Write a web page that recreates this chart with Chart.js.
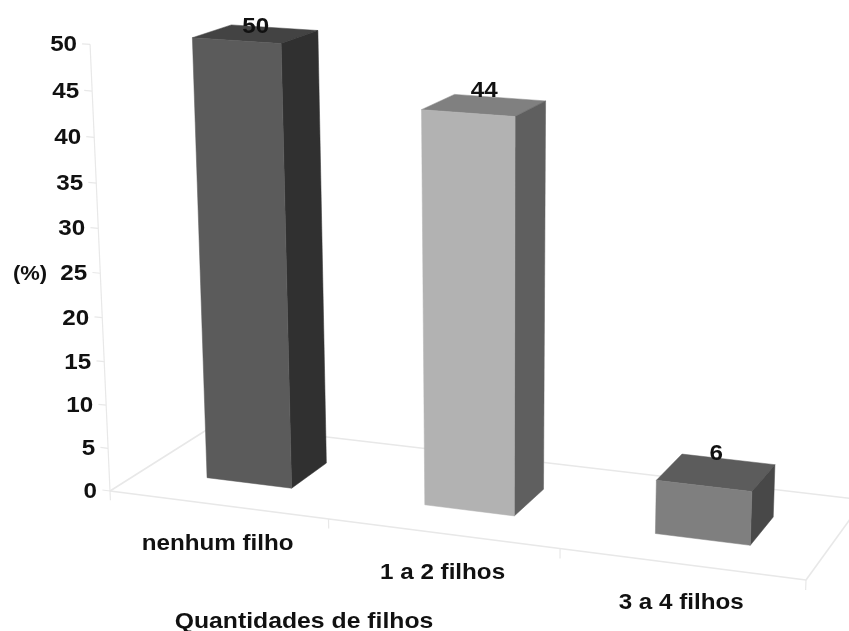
<!DOCTYPE html>
<html lang="pt">
<head>
<meta charset="utf-8">
<title>Quantidades de filhos</title>
<script src="https://cdn.jsdelivr.net/npm/chart.js@4"></script>
<style>
    html, body { margin: 0; background: #fff; }
    canvas { display: block; }
</style>
</head>
<body>
<canvas id="filhos-chart" width="849" height="631"></canvas>
<script>
const categories = ['nenhum filho', '1 a 2 filhos', '3 a 4 filhos'];
const percentages = [50, 44, 6];

const frontColors = ['#5b5b5b', '#b2b2b2', '#7f7f7f'];
const topColors = ['#434343', '#808080', '#5c5c5c'];
const sideColors = ['#303030', '#5f5f5f', '#484848'];

const font = '"Liberation Sans", Arial, sans-serif';
const lineColor = '#e8e8e8';

// Floor of the box in pixels: front-left, front-right, back-right, back-left
const floor = [[110, 491], [806, 580], [864, 500], [216, 424]];
const vanish = [497, 9160]; // where the uprights converge, far below the page
const lift = 0.00098;       // perspective growth per percentage point
const depthRange = [0.3, 0.66];
const valueLabelLift = [7, 14, 18]; // px above the centre of each box top

// Unit square to quad coefficients for the floor plane
const [p0, p1, p2, p3] = floor;
const dx1 = p1[0] - p2[0], dx2 = p3[0] - p2[0], sx = p0[0] - p1[0] + p2[0] - p3[0];
const dy1 = p1[1] - p2[1], dy2 = p3[1] - p2[1], sy = p0[1] - p1[1] + p2[1] - p3[1];
const det = dx1 * dy2 - dx2 * dy1;
const g = (sx * dy2 - dx2 * sy) / det;
const h = (dx1 * sy - sx * dy1) / det;

// u: along the categories (0-1), w: depth (0-1), v: axis value
function project(u, w, v) {
    const k = lift * v;
    const d = 1 + g * u + h * w - k;
    const nx = (p1[0] - p0[0] + g * p1[0]) * u + (p3[0] - p0[0] + h * p3[0]) * w + p0[0];
    const ny = (p1[1] - p0[1] + g * p1[1]) * u + (p3[1] - p0[1] + h * p3[1]) * w + p0[1];
    return [(nx - k * vanish[0]) / d, (ny - k * vanish[1]) / d];
}

function line(ctx, a, b, width, color) {
    ctx.beginPath();
    ctx.moveTo(a[0], a[1]);
    ctx.lineTo(b[0], b[1]);
    ctx.lineWidth = width;
    ctx.strokeStyle = color;
    ctx.stroke();
}

function face(ctx, points, color) {
    ctx.beginPath();
    points.forEach((p, i) => i ? ctx.lineTo(p[0], p[1]) : ctx.moveTo(p[0], p[1]));
    ctx.closePath();
    ctx.fillStyle = color;
    ctx.fill();
    ctx.strokeStyle = color;
    ctx.lineWidth = 0.5;
    ctx.stroke();
}

// The source font is wider than Liberation, so stretch horizontally
function label(ctx, text, x, y, size, align = 'center') {
    ctx.save();
    ctx.translate(x, y);
    ctx.scale(1.1, 1);
    ctx.font = `bold ${size}px ${font}`;
    ctx.fillStyle = '#111';
    ctx.textAlign = align;
    ctx.textBaseline = 'middle';
    ctx.fillText(text, 0, 0);
    ctx.restore();
}

const boxPlugin = {
    id: 'box3d',
    // Replaces the flat bars with boxes placed through the chart's scales
    beforeDatasetDraw(chart) {
        const { ctx, chartArea } = chart;
        const yScale = chart.scales.y;
        const toU = px => (px - chartArea.left) / chartArea.width;
        const [w0, w1] = depthRange;

        // floor outline
        line(ctx, project(0, 0, 0), project(1, 0, 0), 1.6, lineColor);
        line(ctx, project(1, 0, 0), project(1, 1, 0), 1.6, lineColor);
        line(ctx, project(1, 1, 0), project(0, 1, 0), 1.6, lineColor);
        line(ctx, project(0, 1, 0), project(0, 0, 0), 1.6, lineColor);

        // category ticks
        [0, 1, 2, 3].forEach(i => {
            const u = i / categories.length;
            line(ctx, project(u, 0, 0), project(u, 0, -1.1), 1.2, lineColor);
        });

        // value axis
        line(ctx, project(0, 0, yScale.min), project(0, 0, yScale.max), 1.2, lineColor);
        yScale.ticks.forEach(tick => {
            const anchor = project(0, 0, tick.value);
            line(ctx, anchor, project(-0.012, 0, tick.value), 1.2, lineColor);
            label(ctx, tick.label, anchor[0] - 13, anchor[1] + 1, 22, 'right');
        });

        chart.getDatasetMeta(0).data.forEach((bar, i) => {
            const u0 = toU(bar.x - bar.width / 2);
            const u1 = toU(bar.x + bar.width / 2);
            const v = yScale.getValueForPixel(bar.y);

            face(ctx, [project(u0, w1, v), project(u1, w1, v), project(u1, w0, v), project(u0, w0, v)], topColors[i]);
            face(ctx, [project(u1, w0, v), project(u1, w1, v), project(u1, w1, 0), project(u1, w0, 0)], sideColors[i]);
            face(ctx, [project(u0, w0, v), project(u1, w0, v), project(u1, w0, 0), project(u0, w0, 0)], bar.options.backgroundColor);

            const top = project((u0 + u1) / 2, (w0 + w1) / 2, v);
            label(ctx, String(percentages[i]), top[0], top[1] - valueLabelLift[i], 22);

            const foot = project(toU(bar.x), 0, 0);
            label(ctx, categories[i], foot[0], foot[1] + 39, 22);
        });

        label(ctx, '(%)', 30, 274, 20);
        label(ctx, 'Quantidades de filhos', 304, 622, 22.5);
        return false;
    }
};

new Chart(document.getElementById('filhos-chart'), {
    type: 'bar',
    data: {
        labels: categories,
        datasets: [{
            data: percentages,
            backgroundColor: frontColors,
            categoryPercentage: 1,
            barPercentage: 0.395
        }]
    },
    options: {
        responsive: false,
        animation: false,
        plugins: {
            legend: { display: false },
            tooltip: { enabled: false }
        },
        scales: {
            x: { display: false },
            y: { display: false, min: 0, max: 50, ticks: { stepSize: 5 } }
        }
    },
    plugins: [boxPlugin]
});
</script>
</body>
</html>
